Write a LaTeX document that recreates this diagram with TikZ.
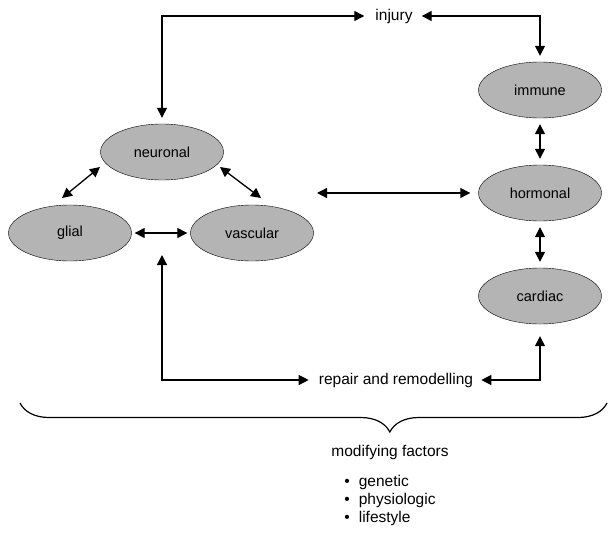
\documentclass[tikz,border=0pt]{standalone}
\usepackage{fontspec}
\setmainfont{Liberation Sans}
\usetikzlibrary{arrows.meta,shapes.geometric,decorations.pathreplacing}
\definecolor{cellgray}{RGB}{180,180,180}
\tikzset{
  sys/.style={ellipse,draw,fill=cellgray,minimum width=123pt,minimum height=56pt,
    inner sep=0pt,font=\fontsize{14.5}{16}\selectfont},
  lbl/.style={inner sep=1pt,font=\fontsize{15.5}{18}\selectfont},
  link/.style={<->,>={Triangle[length=10pt,width=10pt]},line width=1.3pt,
    shorten <=6pt,shorten >=6pt}
}
\begin{document}
\begin{tikzpicture}[x=1pt,y=-1pt]
      \useasboundingbox (0,0) rectangle (615,535);
      \path
        (162,152) node[sys] (neuronal){neuronal}
        (70,233) node[sys] (glial){glial}
        (252,233) node[sys] (vascular){vascular}
        (540,90) node[sys] (immune){immune}
        (540,193) node[sys] (hormonal){hormonal}
        (540,296) node[sys] (cardiac){cardiac}
        (394,16) node[lbl] (injury){injury}
        (396,380) node[lbl] (repair){repair and remodelling}
        (390,452) node[lbl] (factors){modifying factors}
        (390,500) node[lbl,align=left] (factorlist){\textbullet\hspace{9pt}genetic\\
          \textbullet\hspace{9pt}physiologic\\ \textbullet\hspace{9pt}lifestyle};
      \coordinate (cluster) at (317,193);
      \coordinate (clusterbase) at (162,255);
      \coordinate (braceL) at (20,403);
      \coordinate (braceR) at (607,403);
      \begin{scope}[link]
        \draw[shorten >=10pt] (neuronal.north) |- (injury.west);
        \draw[shorten <=8pt] (injury.east) -| (immune.north);
        \draw[shorten <=0pt,shorten >=0pt] ([shift={(-62,15)}]neuronal.center)
          to ([shift={(-8,-35)}]glial.center);
        \draw[shorten <=0pt,shorten >=0pt] ([shift={(58,15)}]neuronal.center)
          to ([shift={(9,-35)}]vascular.center);
        \draw[shorten <=3pt,shorten >=3pt] (glial) to (vascular);
        \draw[shorten <=0pt,shorten >=8pt] (cluster) to (hormonal.west);
        \draw (immune) to (hormonal);
        \draw (hormonal) to (cardiac);
        \draw[shorten <=0pt,shorten >=9pt] (clusterbase) |- (repair.west);
        \draw[shorten <=7pt,shorten >=12pt] (repair.east) -| (cardiac.south);
      \end{scope}
      \draw[line width=1.2pt,decorate,decoration={brace,mirror,amplitude=29pt,aspect=0.63}]
        (braceL) to (braceR);
    \end{tikzpicture}
\end{document}
